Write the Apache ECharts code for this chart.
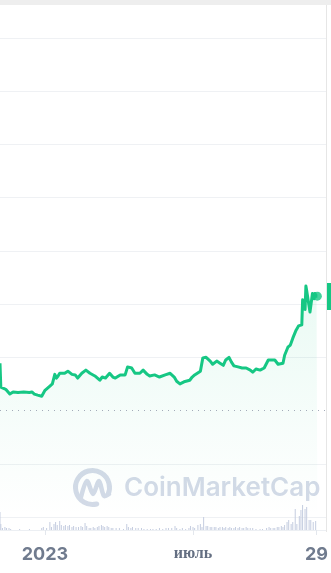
<!DOCTYPE html>
<html>
<head>
<meta charset="utf-8">
<script src="https://cdn.jsdelivr.net/npm/echarts@6/dist/echarts.min.js"></script>
<style>
html,body{margin:0;padding:0;background:#fff;}
#chart{width:331px;height:573px;}
</style>
</head>
<body>
<div id="chart"></div>
<script>
// Price series (date, price)
var priceDates = ['2022-11-07','2022-11-08','2022-11-09','2022-11-14','2022-11-19','2022-11-23','2022-11-29','2022-12-06','2022-12-13','2022-12-16','2022-12-19','2022-12-23','2022-12-28','2023-01-01','2023-01-07','2023-01-10','2023-01-13','2023-01-15','2023-01-17','2023-01-19','2023-01-25','2023-01-29','2023-02-03','2023-02-07','2023-02-10','2023-02-15','2023-02-20','2023-02-25','2023-03-03','2023-03-09','2023-03-12','2023-03-16','2023-03-21','2023-03-25','2023-03-28','2023-04-03','2023-04-09','2023-04-12','2023-04-17','2023-04-21','2023-04-27','2023-05-01','2023-05-06','2023-05-09','2023-05-15','2023-05-21','2023-05-28','2023-06-03','2023-06-08','2023-06-11','2023-06-15','2023-06-20','2023-06-27','2023-06-30','2023-07-03','2023-07-10','2023-07-13','2023-07-17','2023-07-22','2023-07-25','2023-07-30','2023-08-03','2023-08-07','2023-08-10','2023-08-14','2023-08-17','2023-08-20','2023-08-25','2023-08-30','2023-09-04','2023-09-09','2023-09-12','2023-09-16','2023-09-21','2023-09-26','2023-10-01','2023-10-06','2023-10-09','2023-10-13','2023-10-15','2023-10-19','2023-10-21','2023-10-25','2023-10-28','2023-10-31','2023-11-04','2023-11-07','2023-11-11','2023-11-12','2023-11-14','2023-11-15','2023-11-16','2023-11-17','2023-11-19','2023-11-21','2023-11-22','2023-11-24','2023-11-26','2023-11-27','2023-11-29','2023-11-30'];
var priceValues = [2.89,2.44,2.42,2.40,2.31,2.35,2.34,2.35,2.34,2.35,2.31,2.29,2.27,2.38,2.46,2.50,2.68,2.61,2.65,2.70,2.70,2.74,2.68,2.67,2.61,2.70,2.76,2.70,2.65,2.57,2.63,2.61,2.70,2.63,2.61,2.67,2.67,2.82,2.80,2.70,2.70,2.76,2.68,2.65,2.67,2.63,2.67,2.70,2.63,2.55,2.50,2.54,2.57,2.63,2.67,2.74,2.99,3.00,2.93,2.87,2.93,2.89,2.85,2.95,3.00,2.91,2.84,2.82,2.80,2.80,2.76,2.72,2.78,2.76,2.80,2.95,2.95,2.95,2.87,2.84,2.89,3.04,3.19,3.23,3.36,3.51,3.59,3.61,4.08,4.08,3.90,4.34,4.25,4.05,3.85,3.82,4.20,4.10,4.20,4.15,4.15];

// Volume series (date, volume)
var volumeDates = ['2022-11-07','2022-11-08','2022-11-10','2022-11-13','2022-11-15','2022-11-18','2022-11-20','2022-12-01','2022-12-13','2022-12-28','2022-12-30','2023-01-03','2023-01-07','2023-01-09','2023-01-12','2023-01-14','2023-01-16','2023-01-19','2023-01-21','2023-01-24','2023-01-26','2023-01-29','2023-01-31','2023-02-03','2023-02-05','2023-02-08','2023-02-11','2023-02-14','2023-02-16','2023-02-19','2023-02-21','2023-02-24','2023-02-26','2023-03-01','2023-03-03','2023-03-06','2023-03-08','2023-03-11','2023-03-13','2023-03-15','2023-03-18','2023-03-20','2023-03-23','2023-03-25','2023-03-29','2023-04-02','2023-04-07','2023-04-11','2023-04-13','2023-04-16','2023-04-18','2023-04-22','2023-04-25','2023-04-29','2023-05-02','2023-05-06','2023-05-10','2023-05-13','2023-05-17','2023-05-21','2023-05-25','2023-05-29','2023-06-01','2023-06-05','2023-06-09','2023-06-11','2023-06-15','2023-06-18','2023-06-22','2023-06-26','2023-06-28','2023-07-01','2023-07-03','2023-07-07','2023-07-10','2023-07-12','2023-07-14','2023-07-17','2023-07-19','2023-07-22','2023-07-24','2023-07-27','2023-07-29','2023-08-01','2023-08-03','2023-08-06','2023-08-08','2023-08-10','2023-08-13','2023-08-15','2023-08-17','2023-08-20','2023-08-22','2023-08-25','2023-08-27','2023-08-30','2023-09-01','2023-09-04','2023-09-06','2023-09-09','2023-09-12','2023-09-16','2023-09-21','2023-09-24','2023-09-29','2023-10-02','2023-10-04','2023-10-07','2023-10-09','2023-10-12','2023-10-14','2023-10-17','2023-10-19','2023-10-21','2023-10-24','2023-10-26','2023-10-29','2023-10-31','2023-11-03','2023-11-05','2023-11-08','2023-11-10','2023-11-12','2023-11-15','2023-11-17','2023-11-20','2023-11-22','2023-11-25','2023-11-28'];
var volumeValues = [18,6,2,3,2,2,1,1,1,2,3,2,8,3,6,8,5,9,5,4,5,4,5,3,4,3,3,4,3,7,4,2,2,3,2,3,4,5,4,3,4,3,2,2,2,2,1,6,3,2,3,2,2,2,1,1,1,1,1,2,1,2,2,2,4,2,1,2,1,2,4,3,2,5,6,3,13,4,4,3,3,3,3,2,3,3,2,3,2,3,2,2,3,2,3,2,2,3,2,2,2,1,1,1,2,3,2,2,2,3,3,4,3,5,8,10,6,8,21,6,14,20,25,21,23,10,10,8,9];

// Axis tick labels
var tickDates = ['2023-01-01','2023-07-01','2023-11-29'];
var tickLabels = ['2023','июль','29'];
var tickStyles = ['big','month','big'];

// Axis range
var axisStart = '2022-11-07';
var axisEnd = '2023-12-10 14:00';
var referencePrice = 2;

function ts(d){ return echarts.time.parse(d).getTime(); }
var priceData = priceDates.map(function(d,i){return [ts(d), priceValues[i]];});
var volumeData = volumeDates.map(function(d,i){return [ts(d), volumeValues[i]];});
var lastPoint = priceData[priceData.length-1];
var tickTimes = tickDates.map(ts);
var xMin = ts(axisStart);
var xMax = ts(axisEnd);

var splitColors = [];
for (var k = 0; k <= 9; k++) splitColors.push(k === referencePrice ? 'rgba(0,0,0,0)' : '#eff1f4');

var chart = echarts.init(document.getElementById('chart'), null, {renderer:'canvas'});
chart.setOption({
  animation: false,
  backgroundColor: '#ffffff',
  grid: [
    {left: 0, right: 5, top: 38, bottom: 56},
    {left: 0, right: 5, top: 490, bottom: 43}
  ],
  xAxis: [
    {type:'value', gridIndex:0, min:xMin, max:xMax, show:false, splitLine:{show:false}},
    {type:'value', gridIndex:1, min:xMin, max:xMax,
      axisLine:{show:true, lineStyle:{color:'#eceff3', width:1}},
      axisTick:{show:true, customValues: tickTimes, length:5, lineStyle:{color:'#e3e7ed'}},
      splitLine:{show:false},
      axisLabel:{show:true, customValues: tickTimes, margin:16, hideOverlap:false,
        formatter:function(v){
          for (var i=0;i<tickTimes.length;i++){ if (Math.abs(tickTimes[i]-v) < 43200000) return '{'+tickStyles[i]+'|'+tickLabels[i]+'}'; }
          return '';
        },
        rich:{
          big:{fontFamily:'Inter', fontWeight:700, fontSize:18, color:'#707b8e'},
          month:{fontFamily:'Liberation Serif', fontWeight:'bold', fontSize:16, color:'#646f82'}
        }
      }
    }
  ],
  yAxis: [
    {type:'value', gridIndex:0, min:0, max:9, interval:1,
      axisLabel:{show:false}, axisLine:{show:false}, axisTick:{show:false},
      splitLine:{show:true, lineStyle:{color:splitColors, width:1}}
    },
    {type:'value', gridIndex:1, min:0, max:40, show:false, splitLine:{show:false}}
  ],
  series: [
    {type:'line', xAxisIndex:0, yAxisIndex:0, data:priceData, showSymbol:false, symbol:'none',
      lineStyle:{color:'#16c784', width:3, join:'round'},
      areaStyle:{color:new echarts.graphic.LinearGradient(0,0,0,1,[
        {offset:0, color:'rgba(22,199,132,0.13)'},
        {offset:1, color:'rgba(22,199,132,0)'}
      ])},
      markLine:{silent:true, symbol:'none', label:{show:false},
        lineStyle:{color:'#a3abb8', width:1, type:[1,5]},
        data:[{yAxis: referencePrice}]
      },
      z:3
    },
    {type:'scatter', xAxisIndex:0, yAxisIndex:0, data:[lastPoint], symbolSize:9,
      itemStyle:{color:'#16c784'}, z:4},
    {type:'bar', xAxisIndex:1, yAxisIndex:1, data:volumeData, barWidth:1,
      itemStyle:{color:'#c5cde0'}}
  ],
  graphic: [
    {type:'rect', silent:true, z:10, shape:{x:0,y:0,width:331,height:5}, style:{fill:'#eeeeee'}},
    {type:'rect', silent:true, z:10, shape:{x:326,y:5,width:1,height:527}, style:{fill:'#e6e6e6'}},
    {type:'rect', silent:true, z:10, shape:{x:327,y:283,width:4,height:27}, style:{fill:'#16c784'}},
    {type:'arc', silent:true, z:1, shape:{cx:92.5,cy:487.5,r:17,startAngle:Math.PI*0.42,endAngle:Math.PI*2.12,clockwise:true},
      style:{stroke:'#d3dae7', lineWidth:5, fill:null, lineCap:'round'}},
    {type:'polyline', silent:true, z:1, shape:{points:[[81,497],[87,481],[93,494],[99,481],[104,496],[109,494]], smooth:0.3},
      style:{stroke:'#d3dae7', lineWidth:4.5, fill:null, lineCap:'round', lineJoin:'round'}},
    {type:'text', silent:true, z:1, x:124, y:488, style:{text:'CoinMarketCap', font:'600 26px Inter', fill:'#d3dae7', verticalAlign:'middle', textVerticalAlign:'middle'}}
  ]
});
</script>
</body>
</html>
